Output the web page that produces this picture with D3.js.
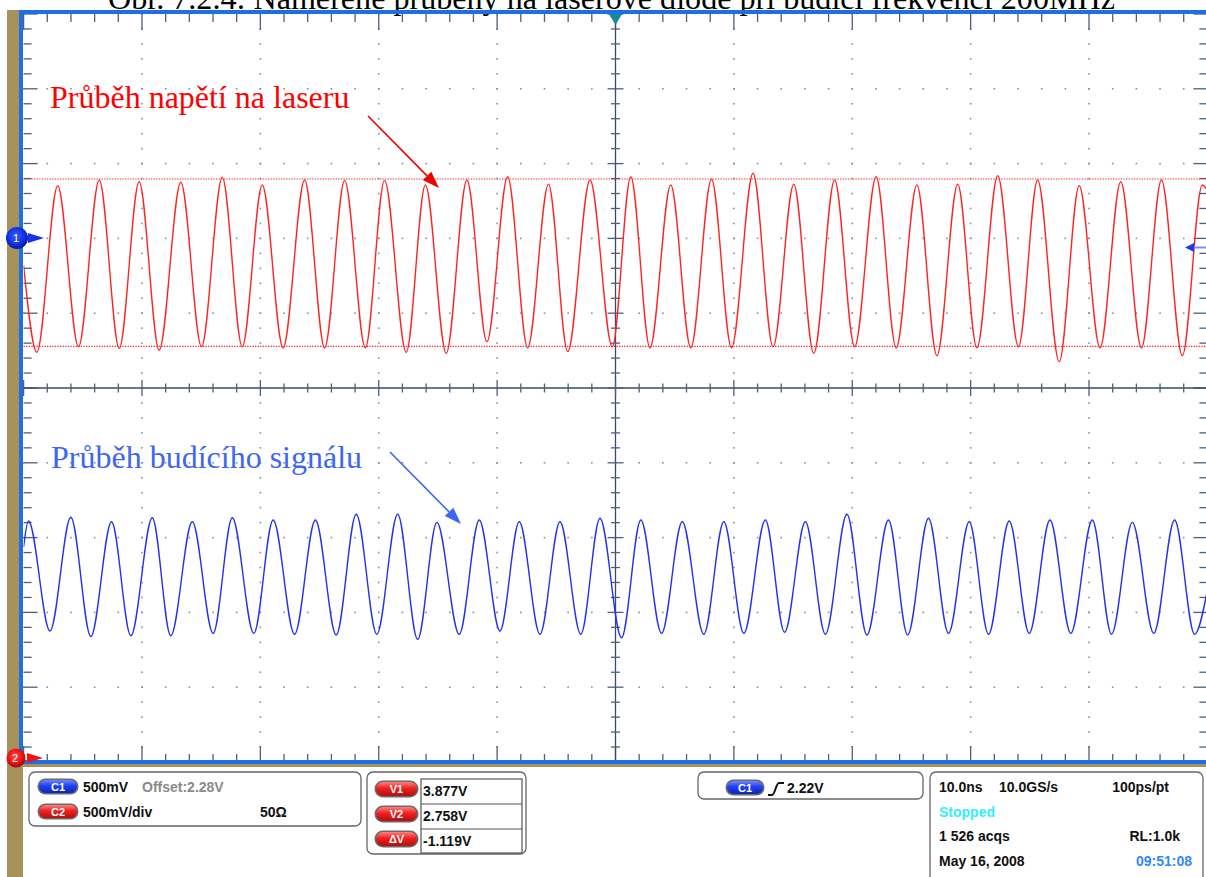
<!DOCTYPE html>
<html><head><meta charset="utf-8">
<script src="https://cdn.jsdelivr.net/npm/d3@7"></script>
<style>html,body{margin:0;padding:0;background:#fff;overflow:hidden}svg{display:block}</style>
</head><body><svg id="c" width="1206" height="877"></svg>
<script>
// ---------- data ----------
const captionText = "Obr. 7.2.4: Naměřené průběhy na laserové diodě při budicí frekvenci 200MHz";
const laserLabel = "Průběh napětí na laseru";
const driveLabel = "Průběh budícího signálu";
// laser voltage trace: alternating extrema (time ns, volts)
const laserTime = [-50, -48.88, -47.12, -45.36, -43.61, -41.92, -40.24, -38.55, -36.72, -34.97, -33.22, -31.53, -29.84, -28.08, -26.26, -24.57, -22.88, -21.13, -19.51, -17.68, -16.06, -14.30, -12.55, -10.86, -9.11, -7.42, -5.66, -4.04, -2.15, -0.27, 1.29, 2.91, 4.67, 6.36, 8.11, 9.80, 11.62, 13.31, 15.06, 16.75, 18.51, 20.20, 22.02, 23.71, 25.46, 27.15, 28.91, 30.53, 32.29, 34.04, 35.66, 37.48, 39.17, 40.93, 42.68, 44.43, 46.12, 47.88, 49.57, 50];
const laserVolt = [3.30, 2.719, 3.832, 2.756, 3.870, 2.745, 3.859, 2.734, 3.855, 2.756, 3.888, 2.756, 3.837, 2.749, 3.870, 2.749, 3.868, 2.749, 3.868, 2.719, 3.837, 2.712, 3.870, 2.790, 3.892, 2.749, 3.842, 2.723, 3.870, 2.756, 3.892, 2.749, 3.837, 2.749, 3.875, 2.749, 3.915, 2.756, 3.842, 2.712, 3.870, 2.756, 3.892, 2.749, 3.837, 2.696, 3.842, 2.749, 3.899, 2.756, 3.870, 2.656, 3.832, 2.749, 3.859, 2.749, 3.870, 2.696, 3.837, 3.80];
// drive signal trace
const driveTime = [-50, -49.59, -47.77, -46.01, -44.32, -42.57, -40.94, -39.13, -37.57, -35.75, -33.99, -32.37, -30.55, -28.92, -27.11, -25.35, -23.59, -21.90, -20.16, -18.40, -16.71, -15.09, -13.20, -11.51, -9.76, -8.13, -6.38, -4.69, -2.93, -1.31, 0.51, 2.14, 3.89, 5.64, 7.46, 9.15, 10.84, 12.66, 14.28, 16.04, 17.73, 19.55, 21.24, 23.06, 24.68, 26.44, 28.13, 29.88, 31.51, 33.26, 34.95, 36.70, 38.46, 40.28, 41.90, 43.66, 45.47, 47.23, 48.92, 50];
const driveVolt = [1.417, 1.591, 0.856, 1.616, 0.818, 1.586, 0.824, 1.613, 0.824, 1.586, 0.840, 1.613, 0.840, 1.598, 0.834, 1.598, 0.829, 1.636, 0.834, 1.636, 0.800, 1.582, 0.834, 1.598, 0.856, 1.586, 0.834, 1.586, 0.834, 1.609, 0.811, 1.598, 0.840, 1.586, 0.834, 1.586, 0.840, 1.598, 0.847, 1.586, 0.834, 1.636, 0.829, 1.598, 0.829, 1.609, 0.840, 1.586, 0.834, 1.591, 0.840, 1.598, 0.840, 1.598, 0.834, 1.582, 0.840, 1.598, 0.834, 1.13];
// cursors
const cursorLabels = ["V1", "V2", "ΔV"];
const cursorValues = [3.877, 2.758, -1.119];
// time / voltage graticule
const timeDomain = [-50, 50];
const voltDomain = [-0.02, 4.98];
const voltPerDiv = 0.5;
const nsPerDiv = 10;
// info panel texts
const chanRows = [["C1", "500mV", "Offset:2.28V", ""], ["C2", "500mV/div", "", "50Ω"]];
const triggerText = ["C1", "2.22V"];
const timebaseRows = [["10.0ns", "10.0GS/s", "100ps/pt"], ["Stopped", "", ""], ["1 526 acqs", "", "RL:1.0k"], ["May 16, 2008", "", "09:51:08"]];

// ---------- drawing ----------
const svg = d3.select("#c");
const W = 1206, H = 877;
const L = 23.6, R = 1207.4, T = 14, B = 762;
const x = d3.scaleLinear().domain(timeDomain).range([L, R]);
const y = d3.scaleLinear().domain(voltDomain).range([B, T]);
const defs = svg.append("defs");
defs.append("clipPath").attr("id", "plotclip").append("rect").attr("x", L).attr("y", T).attr("width", W - L).attr("height", B - T);

svg.append("rect").attr("width", W).attr("height", H).attr("fill", "#fff");

// caption (cut off at top)
svg.append("text").attr("x", 108).attr("y", 9).attr("font-family", "Liberation Serif, Times New Roman, serif")
  .attr("font-size", 32).attr("fill", "#000").attr("textLength", 1007).attr("lengthAdjust", "spacingAndGlyphs").text(captionText);

const tickColor = "#4e5e7c", dotColor = "#8090a8";
const xMinor = d3.range(timeDomain[0], timeDomain[1] + 0.001, nsPerDiv / 5);
const yMinor = d3.range(0, 51).map(i => voltDomain[0] + i * voltPerDiv / 5);
const isMajX = t => Math.abs(((t - timeDomain[0]) / nsPerDiv) - Math.round((t - timeDomain[0]) / nsPerDiv)) < 1e-6;
const isMajY = v => Math.abs(((v - voltDomain[0]) / voltPerDiv) - Math.round((v - voltDomain[0]) / voltPerDiv)) < 1e-6;
const xMajor = xMinor.filter(isMajX);
const yMajor = yMinor.filter(isMajY);
const tCenter = (timeDomain[0] + timeDomain[1]) / 2;
const vCenter = (voltDomain[0] + voltDomain[1]) / 2;

const grid = svg.append("g");
// dotted graticule
const dots = [];
xMajor.forEach(t => { if (t > timeDomain[0] && t < timeDomain[1] && t !== tCenter) yMinor.forEach(v => dots.push([t, v])); });
yMajor.forEach(v => { if (v > voltDomain[0] + 0.01 && v < voltDomain[1] - 0.01 && Math.abs(v - vCenter) > 0.01) xMinor.forEach(t => dots.push([t, v])); });
grid.selectAll("rect.dot").data(dots).join("rect").attr("class", "dot")
  .attr("x", d => x(d[0]) - 0.8).attr("y", d => y(d[1]) - 0.8).attr("width", 1.6).attr("height", 1.6).attr("fill", dotColor);

// edge ticks
function ticksLine(data, f) {
  grid.append("g").selectAll("line").data(data).join("line").each(function (d) {
    const c = f(d); d3.select(this).attr("x1", c[0]).attr("y1", c[1]).attr("x2", c[2]).attr("y2", c[3]);
  }).attr("stroke", tickColor).attr("stroke-width", 1.3);
}
ticksLine(xMinor, t => [x(t), T, x(t), T + (isMajX(t) ? 16 : 8)]);
ticksLine(xMinor, t => [x(t), B, x(t), B - (isMajX(t) ? 16 : 8)]);
ticksLine(yMinor, v => [L, y(v), L + (isMajY(v) ? 14 : 8), y(v)]);
ticksLine(yMinor, v => [R, y(v), R - (isMajY(v) ? 14 : 8), y(v)]);
// center cross
grid.append("line").attr("x1", x(tCenter)).attr("x2", x(tCenter)).attr("y1", T).attr("y2", B).attr("stroke", "#3a4a6a").attr("stroke-width", 1.3);
grid.append("line").attr("x1", L).attr("x2", R).attr("y1", y(vCenter)).attr("y2", y(vCenter)).attr("stroke", "#3a4a6a").attr("stroke-width", 1.3);
ticksLine(yMinor, v => { const s = isMajY(v) ? 8 : 4.5; return [x(tCenter) - s, y(v), x(tCenter) + s, y(v)]; });
ticksLine(xMinor, t => { const s = isMajX(t) ? 8 : 4.5; return [x(t), y(vCenter) - s, x(t), y(vCenter) + s]; });

// cursors
svg.append("g").selectAll("line").data(cursorValues.slice(0, 2)).join("line")
  .attr("x1", L).attr("x2", W).attr("y1", d => y(d)).attr("y2", d => y(d))
  .attr("stroke", "#ff2020").attr("stroke-width", 1.1).attr("stroke-dasharray", "1.3,1.3");

// traces
const line = d3.line().x(d => x(d[0])).y(d => y(d[1])).curve(d3.curveMonotoneX);
const traces = svg.append("g").attr("clip-path", "url(#plotclip)");
traces.append("path").attr("d", line(laserTime.map((t, i) => [t, laserVolt[i]])))
  .attr("fill", "none").attr("stroke", "#ff2424").attr("stroke-width", 1.4);
traces.append("path").attr("d", line(driveTime.map((t, i) => [t, driveVolt[i]])))
  .attr("fill", "none").attr("stroke", "#2232ee").attr("stroke-width", 1.4);

// borders
svg.append("rect").attr("x", 7).attr("y", 10).attr("width", 12).attr("height", H - 10).attr("fill", "#a8925c");
svg.append("rect").attr("x", 7).attr("y", 764).attr("width", W - 7).attr("height", 3).attr("fill", "#a8925c");
svg.append("rect").attr("x", 7).attr("y", 764).attr("width", 16).attr("height", H - 764).attr("fill", "#a8925c");
svg.append("rect").attr("x", 19).attr("y", 10).attr("width", W - 19).attr("height", 4).attr("fill", "#1c6fe4");
svg.append("rect").attr("x", 19).attr("y", 10).attr("width", 4).attr("height", 754).attr("fill", "#1c6fe4");
svg.append("rect").attr("x", 19).attr("y", 760).attr("width", W - 19).attr("height", 4).attr("fill", "#1c6fe4");

// trigger marker
svg.append("path").attr("d", `M${x(tCenter) - 6.5},14 L${x(tCenter) + 6.5},14 L${x(tCenter)},25 Z`).attr("fill", "#148a92");

// channel markers
function gradient(id, c1, c2, c3) {
  const g = defs.append("radialGradient").attr("id", id).attr("cx", "45%").attr("cy", "40%").attr("r", "60%");
  g.append("stop").attr("offset", "0%").attr("stop-color", c1);
  g.append("stop").attr("offset", "70%").attr("stop-color", c2);
  g.append("stop").attr("offset", "100%").attr("stop-color", c3);
}
gradient("gb", "#3a5cff", "#0a2ee0", "#0a1a80");
gradient("gr", "#ff4a4a", "#ee0a0a", "#901010");
function marker(cx, cy, r, fill, label, triColor) {
  svg.append("path").attr("d", `M${cx + 11},${cy - 5} L${cx + 27},${cy} L${cx + 11},${cy + 5} Z`).attr("fill", triColor);
  svg.append("circle").attr("cx", cx).attr("cy", cy).attr("r", r).attr("fill", fill);
  svg.append("text").attr("x", cx - 1).attr("y", cy + 4).attr("text-anchor", "middle").attr("font-family", "Liberation Sans, Arial, sans-serif")
    .attr("font-size", 11).attr("fill", "#fff").text(label);
}
marker(17, 238, 11, "url(#gb)", "1", "#1530ee");
marker(16, 758, 9.5, "url(#gr)", "2", "#ee1515");
// right offset arrow
svg.append("line").attr("x1", 1192).attr("x2", W).attr("y1", 247.5).attr("y2", 247.5).attr("stroke", "#7a90ff").attr("stroke-width", 2);
svg.append("path").attr("d", "M1185,247.5 L1194,243 L1194,252 Z").attr("fill", "#1a3af0");

// annotations
const serif = "Liberation Serif, Times New Roman, serif";
svg.append("text").attr("x", 50).attr("y", 108).attr("font-family", serif).attr("font-size", 32).attr("fill", "#ff0000").text(laserLabel);
svg.append("text").attr("x", 51).attr("y", 468).attr("font-family", serif).attr("font-size", 32).attr("fill", "#3d66f2").text(driveLabel);
function arrow(x1, y1, x2, y2, color) {
  const a = Math.atan2(y2 - y1, x2 - x1), len = 17, hw = 6;
  const bx = x2 - len * Math.cos(a), by = y2 - len * Math.sin(a);
  svg.append("line").attr("x1", x1).attr("y1", y1).attr("x2", bx).attr("y2", by).attr("stroke", color).attr("stroke-width", 1.6);
  svg.append("path").attr("d", `M${x2},${y2} L${bx + hw * Math.sin(a)},${by - hw * Math.cos(a)} L${bx - hw * Math.sin(a)},${by + hw * Math.cos(a)} Z`).attr("fill", color);
}
arrow(368, 116, 439, 188, "#ee0000");
arrow(390, 452, 461, 524, "#3a66f0");

// ---------- info panel ----------
const sans = "Liberation Sans, Arial, sans-serif";
const panel = svg.append("g");
function box(x0, y0, w, h) {
  panel.append("rect").attr("x", x0).attr("y", y0).attr("width", w).attr("height", h).attr("rx", 6)
    .attr("fill", "#fff").attr("stroke", "#666").attr("stroke-width", 1.3);
}
defs.append("linearGradient").attr("id", "pb").attr("x1", 0).attr("x2", 0).attr("y1", 0).attr("y2", 1)
  .call(g => { g.append("stop").attr("offset", "0%").attr("stop-color", "#6f86ff"); g.append("stop").attr("offset", "45%").attr("stop-color", "#2040f0"); g.append("stop").attr("offset", "100%").attr("stop-color", "#1026b8"); });
defs.append("linearGradient").attr("id", "pr").attr("x1", 0).attr("x2", 0).attr("y1", 0).attr("y2", 1)
  .call(g => { g.append("stop").attr("offset", "0%").attr("stop-color", "#ff8080"); g.append("stop").attr("offset", "45%").attr("stop-color", "#f02020"); g.append("stop").attr("offset", "100%").attr("stop-color", "#b01010"); });
function pill(x0, y0, w, h, fill, label) {
  panel.append("rect").attr("x", x0 - 1.5).attr("y", y0 - 1.5).attr("width", w + 3).attr("height", h + 3).attr("rx", (h + 3) / 2).attr("fill", "#3a3a3a").attr("opacity", 0.75);
  panel.append("rect").attr("x", x0).attr("y", y0).attr("width", w).attr("height", h).attr("rx", h / 2).attr("fill", fill);
  panel.append("text").attr("x", x0 + w / 2).attr("y", y0 + h / 2 + 4).attr("text-anchor", "middle").attr("font-family", sans)
    .attr("font-size", 11).attr("font-weight", "bold").attr("fill", "#fff").text(label);
}
function txt(x0, y0, s, color, anchor, weight) {
  panel.append("text").attr("x", x0).attr("y", y0).attr("font-family", sans).attr("font-size", 14)
    .attr("font-weight", weight || "bold").attr("fill", color || "#111").attr("text-anchor", anchor || "start").text(s);
}
// channel box
box(29, 772, 332, 54);
chanRows.forEach((r, i) => {
  const yy = 780 + i * 25;
  pill(39, yy, 38, 13, i === 0 ? "url(#pb)" : "url(#pr)", r[0]);
  txt(83, yy + 12, r[1]);
  if (r[2]) txt(142, yy + 12, r[2], "#8a8a8a");
  if (r[3]) txt(260, yy + 12, r[3]);
});
// cursor box
box(367, 772, 159, 82);
panel.append("rect").attr("x", 421).attr("y", 779).attr("width", 101).attr("height", 74).attr("fill", "none").attr("stroke", "#555").attr("stroke-width", 1.2);
[804, 829].forEach(yy => panel.append("line").attr("x1", 421).attr("x2", 522).attr("y1", yy).attr("y2", yy).attr("stroke", "#555").attr("stroke-width", 1.2));
cursorLabels.forEach((c, i) => {
  const yy = 782 + i * 25;
  pill(376, yy, 41, 14, "url(#pr)", c);
  txt(423, yy + 14, cursorValues[i].toFixed(3) + "V");
});
// trigger box
box(698, 772, 225, 27);
pill(727, 781, 36, 13, "url(#pb)", triggerText[0]);
panel.append("path").attr("d", "M768,795 L772,795 C775,795 776,783 779,783 L784,783").attr("fill", "none").attr("stroke", "#111").attr("stroke-width", 2);
txt(787, 793, triggerText[1]);
// timebase box
box(930, 772, 273, 115);
const tbY = [792, 817, 841, 866];
timebaseRows.forEach((r, i) => {
  const yy = tbY[i];
  if (i === 1) { txt(939, yy, r[0], "#33eeff"); return; }
  txt(939, yy, r[0]);
  if (r[1]) txt(999, yy, r[1]);
  if (r[2]) txt(i === 0 ? 1169 : (i === 2 ? 1180 : 1192), yy, r[2], i === 3 ? "#3388ff" : "#111", "end");
});
</script></body></html>
